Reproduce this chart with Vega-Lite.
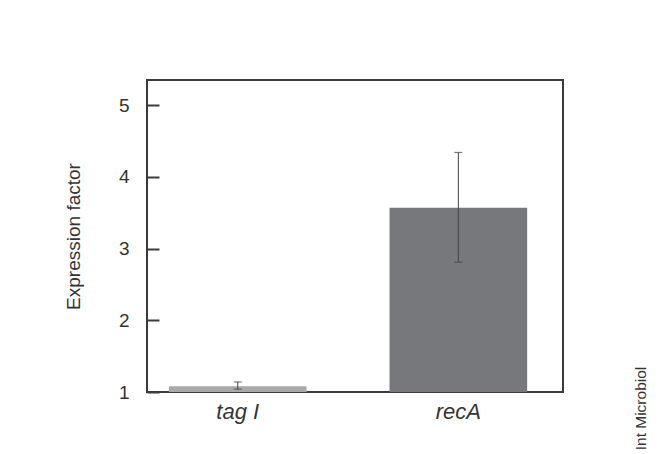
{
  "$schema": "https://vega.github.io/schema/vega-lite/v6.json",
  "width": 416,
  "height": 312,
  "autosize": {"type": "none"},
  "padding": {"left": 147, "top": 80, "right": 95, "bottom": 62},
  "background": "white",
  "config": {
    "view": {"stroke": "#3a3a3a", "strokeWidth": 2},
    "font": "Liberation Sans"
  },
  "data": {
    "values": [
      {"gene": "tag I", "value": 1.08, "lo": 1.04, "hi": 1.14},
      {"gene": "recA", "value": 3.57, "lo": 2.81, "hi": 4.34}
    ]
  },
  "encoding": {
    "x": {
      "field": "gene",
      "type": "nominal",
      "sort": ["tag I", "recA"],
      "scale": {"paddingInner": 0.376, "paddingOuter": 0.131, "align": 0.38},
      "axis": {
        "title": "Int Microbiol",
        "titleAngle": 270,
        "titleX": 493,
        "titleY": 16,
        "titleAlign": "center",
        "titleBaseline": "middle",
        "titleFontSize": 15.5,
        "titleFontWeight": "normal",
        "titleColor": "#333",
        "labelAngle": 0,
        "labelFontSize": 22,
        "labelFontStyle": "italic",
        "labelColor": "#333",
        "labelPadding": 9,
        "ticks": false,
        "domain": false
      }
    }
  },
  "layer": [
    {
      "mark": {"type": "bar"},
      "encoding": {
        "y": {
          "field": "value",
          "type": "quantitative",
          "scale": {"domain": [1, 5.35], "zero": false, "nice": false},
          "axis": {
            "title": "Expression factor",
            "titleFontSize": 19,
            "titleFontWeight": "normal",
            "titleColor": "#333",
            "titlePadding": 35,
            "values": [1, 2, 3, 4, 5],
            "format": "d",
            "offset": -12,
            "labelFontSize": 19,
            "labelColor": "#333",
            "labelPadding": 18,
            "tickSize": 12,
            "tickColor": "#3a3a3a",
            "tickWidth": 2,
            "domain": false,
            "grid": false
          }
        },
        "y2": {"datum": 1},
        "color": {
          "field": "gene",
          "type": "nominal",
          "scale": {"domain": ["tag I", "recA"], "range": ["#a9a9a9", "#77787c"]},
          "legend": null
        }
      }
    },
    {
      "mark": {"type": "rule", "color": "#444", "strokeWidth": 1},
      "encoding": {
        "y": {"field": "lo", "type": "quantitative"},
        "y2": {"field": "hi"}
      }
    },
    {
      "mark": {"type": "tick", "color": "#444", "thickness": 1.2, "size": 8},
      "encoding": {"y": {"field": "lo", "type": "quantitative"}}
    },
    {
      "mark": {"type": "tick", "color": "#444", "thickness": 1.2, "size": 8},
      "encoding": {"y": {"field": "hi", "type": "quantitative"}}
    }
  ]
}
